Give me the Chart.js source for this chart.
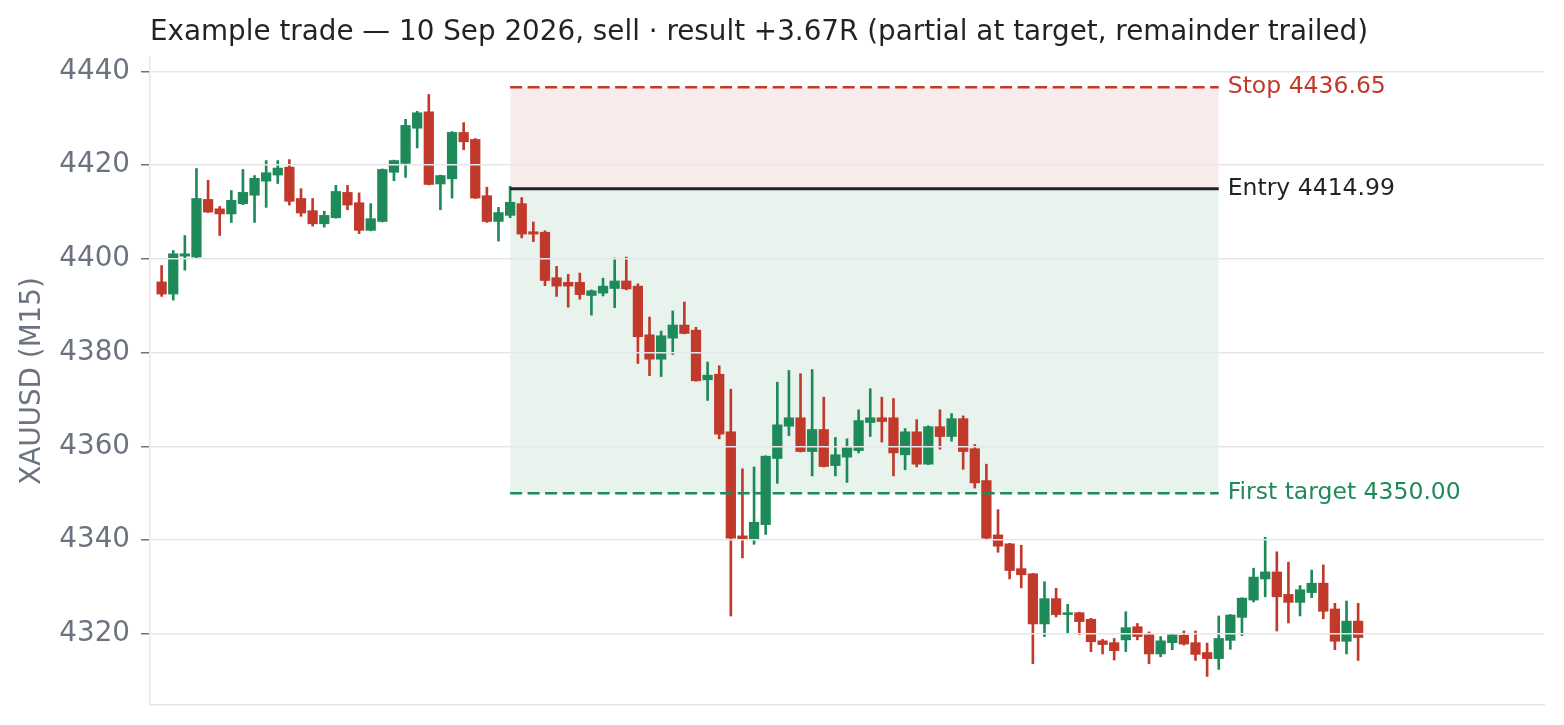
<!DOCTYPE html>
<html>
<head>
<meta charset="utf-8">
<title>Example trade</title>
<script src="https://cdn.jsdelivr.net/npm/chart.js@4.4.1/dist/chart.umd.min.js"></script>
<style>
  html, body { margin: 0; padding: 0; background: #ffffff; }
  #wrap { width: 1564px; height: 725px; position: relative; }
</style>
</head>
<body>
<div id="wrap"><canvas id="tradeChart"></canvas></div>
<script>
// M15 candles, index 0..103
const opens = [
  4395.1, 4392.5, 4400.6, 4400.4, 4412.7, 4410.7, 4409.6, 4411.8, 4413.6, 4416.6,
  4417.9, 4419.6, 4412.9, 4410.3, 4407.5, 4408.8, 4414.2, 4412.0, 4406.1, 4408.0,
  4418.5, 4420.4, 4427.9, 4431.4, 4416.0, 4417.1, 4427.0, 4425.5, 4413.5, 4408.0,
  4409.3, 4411.8, 4405.8, 4405.7, 4396.0, 4395.0, 4395.0, 4392.2, 4392.7, 4393.7,
  4395.3, 4394.2, 4383.8, 4378.6, 4383.1, 4385.9, 4384.8, 4374.2, 4375.4, 4363.1,
  4340.9, 4340.1, 4343.3, 4357.4, 4364.3, 4366.1, 4358.9, 4363.6, 4355.9, 4357.7,
  4359.1, 4365.1, 4366.1, 4366.1, 4358.2, 4363.1, 4356.2, 4364.2, 4362.1, 4365.9,
  4359.5, 4352.7, 4341.1, 4339.2, 4333.9, 4332.8, 4322.1, 4327.5, 4324.1, 4324.5,
  4323.1, 4318.5, 4318.1, 4318.7, 4321.5, 4319.8, 4315.7, 4318.1, 4319.7, 4318.1,
  4316.0, 4314.7, 4318.6, 4323.5, 4327.2, 4331.7, 4333.2, 4328.4, 4326.7, 4328.8,
  4330.8, 4325.3, 4318.4, 4322.7
];
const highs = [
  4398.6, 4401.8, 4405.0, 4419.3, 4416.8, 4411.2, 4414.6, 4419.1, 4417.8, 4421.0,
  4421.0, 4421.2, 4415.0, 4412.9, 4410.2, 4415.7, 4415.7, 4414.1, 4411.8, 4419.2,
  4421.1, 4429.8, 4431.5, 4435.1, 4417.9, 4427.2, 4429.1, 4425.7, 4415.3, 4411.0,
  4415.5, 4413.1, 4407.9, 4406.0, 4398.4, 4396.7, 4397.0, 4393.4, 4395.9, 4400.2,
  4400.4, 4394.7, 4387.6, 4384.6, 4388.9, 4390.8, 4385.4, 4378.0, 4377.2, 4372.2,
  4355.2, 4355.6, 4358.0, 4373.7, 4376.2, 4375.5, 4376.4, 4370.5, 4361.9, 4361.6,
  4367.8, 4372.3, 4370.5, 4370.2, 4363.8, 4365.7, 4364.4, 4367.8, 4367.0, 4366.5,
  4360.4, 4356.2, 4346.5, 4339.3, 4338.9, 4332.9, 4331.1, 4329.7, 4326.3, 4324.6,
  4323.3, 4318.8, 4319.0, 4324.7, 4322.2, 4320.4, 4319.4, 4320.0, 4320.6, 4320.6,
  4318.0, 4323.8, 4324.1, 4327.7, 4334.0, 4340.6, 4337.5, 4335.3, 4330.3, 4333.6,
  4334.7, 4326.5, 4327.0, 4326.5
];
const lows = [
  4392.0, 4391.2, 4397.6, 4400.1, 4409.9, 4405.0, 4407.8, 4411.6, 4407.8, 4411.0,
  4416.1, 4411.5, 4409.1, 4407.0, 4406.8, 4408.7, 4410.5, 4405.4, 4406.0, 4407.9,
  4416.7, 4417.4, 4423.7, 4415.8, 4410.5, 4413.0, 4423.3, 4412.9, 4407.8, 4403.8,
  4408.8, 4404.5, 4403.7, 4394.3, 4392.0, 4389.7, 4391.4, 4388.0, 4392.1, 4389.6,
  4393.4, 4377.7, 4375.1, 4374.9, 4379.6, 4384.0, 4373.9, 4369.8, 4361.6, 4323.8,
  4336.2, 4339.1, 4341.2, 4352.1, 4362.3, 4358.8, 4353.7, 4355.6, 4353.7, 4352.3,
  4358.6, 4362.1, 4360.9, 4353.7, 4355.0, 4355.6, 4356.1, 4359.4, 4361.1, 4355.1,
  4351.1, 4340.3, 4337.4, 4331.7, 4329.8, 4313.6, 4319.4, 4323.6, 4320.0, 4319.8,
  4316.2, 4315.7, 4314.4, 4316.2, 4318.7, 4313.6, 4315.1, 4316.6, 4317.6, 4314.3,
  4310.9, 4312.4, 4316.7, 4319.6, 4326.8, 4327.9, 4320.6, 4322.3, 4323.8, 4327.7,
  4323.2, 4316.6, 4315.7, 4314.3
];
const closes = [
  4392.5, 4401.1, 4401.1, 4412.9, 4410.0, 4409.6, 4412.5, 4414.2, 4417.2, 4418.4,
  4419.4, 4412.3, 4409.8, 4407.5, 4409.3, 4414.4, 4411.5, 4406.1, 4408.6, 4419.1,
  4421.0, 4428.5, 4431.2, 4415.9, 4417.8, 4427.0, 4425.0, 4413.0, 4408.0, 4409.9,
  4412.1, 4405.3, 4405.3, 4395.4, 4394.2, 4394.2, 4392.4, 4393.2, 4394.2, 4395.3,
  4393.6, 4383.4, 4378.6, 4383.6, 4385.9, 4384.1, 4374.0, 4375.2, 4362.6, 4340.4,
  4340.1, 4343.8, 4357.9, 4364.6, 4366.1, 4358.9, 4363.6, 4355.7, 4358.2, 4359.7,
  4365.5, 4366.1, 4365.3, 4358.6, 4363.1, 4356.2, 4364.2, 4362.1, 4365.9, 4358.9,
  4352.2, 4340.4, 4338.7, 4333.5, 4332.6, 4322.1, 4327.5, 4324.1, 4324.5, 4322.6,
  4318.3, 4317.7, 4316.4, 4321.3, 4319.4, 4315.7, 4318.5, 4319.8, 4317.8, 4315.6,
  4314.7, 4319.0, 4324.0, 4327.6, 4332.1, 4333.2, 4327.9, 4326.7, 4329.4, 4330.8,
  4324.8, 4318.4, 4322.7, 4319.2
];

// trade levels
const stopPrice = 4436.65;
const entryPrice = 4414.99;
const targetPrice = 4350.00;
const entryIndex = 30;
const zoneEndIndex = 91;

const yTicks = [4320, 4340, 4360, 4380, 4400, 4420, 4440];
const yMin = 4304.8;
const yMax = 4443.1;
const xMin = -1;
const xMax = 119;

const titleText = 'Example trade \u2014 10 Sep 2026, sell \u00b7 result +3.67R (partial at target, remainder trailed)';
const yTitle = 'XAUUSD (M15)';

const RED = '#c0392b';
const GREEN = '#1e8a5a';
const DARK = '#1f2328';
const GRAY = '#6b7280';
const GRID = '#e5e7eb';

Chart.defaults.font.family = '"DejaVu Sans", sans-serif';

const candleColors = closes.map((c, i) => c >= opens[i] ? GREEN : RED);

const bodies = closes.map((c, i) => ({ x: i, y: [opens[i], c] }));
const wicks = closes.map((c, i) => ({ x: i, y: [lows[i], highs[i]] }));

const levelLine = (price) => [
  { x: entryIndex, y: price },
  { x: zoneEndIndex, y: price }
];

// title, axis title and level labels
const textPlugin = {
  id: 'textPlugin',
  afterDraw(chart) {
    const ctx = chart.ctx;
    const area = chart.chartArea;
    const xs = chart.scales.x;
    const ys = chart.scales.y;
    ctx.save();

    ctx.fillStyle = DARK;
    ctx.font = '27.8px "DejaVu Sans"';
    ctx.textAlign = 'left';
    ctx.textBaseline = 'middle';
    ctx.fillText(titleText, area.left, 33);

    ctx.save();
    ctx.translate(33, (area.top + area.bottom) / 2);
    ctx.rotate(-Math.PI / 2);
    ctx.fillStyle = GRAY;
    ctx.font = '27.8px "DejaVu Sans"';
    ctx.textAlign = 'center';
    ctx.fillText(yTitle, 0, 0);
    ctx.restore();

    const lx = xs.getPixelForValue(zoneEndIndex) + 9;
    ctx.font = '23.5px "DejaVu Sans"';
    ctx.textAlign = 'left';
    ctx.fillStyle = RED;
    ctx.fillText('Stop ' + stopPrice.toFixed(2), lx, ys.getPixelForValue(stopPrice));
    ctx.fillStyle = DARK;
    ctx.fillText('Entry ' + entryPrice.toFixed(2), lx, ys.getPixelForValue(entryPrice));
    ctx.fillStyle = GREEN;
    ctx.fillText('First target ' + targetPrice.toFixed(2), lx, ys.getPixelForValue(targetPrice));
    ctx.restore();
  }
};

new Chart(document.getElementById('tradeChart'), {
  type: 'bar',
  data: {
    datasets: [
      {
        type: 'line',
        data: levelLine(stopPrice),
        borderColor: RED,
        borderWidth: 2.5,
        borderDash: [12, 5.5],
        pointRadius: 0,
        fill: { value: entryPrice },
        backgroundColor: 'rgba(192, 57, 43, 0.1)',
        order: 0
      },
      {
        type: 'line',
        data: levelLine(entryPrice),
        borderColor: DARK,
        borderWidth: 3,
        pointRadius: 0,
        fill: { value: targetPrice },
        backgroundColor: 'rgba(30, 138, 90, 0.1)',
        order: 0
      },
      {
        type: 'line',
        data: levelLine(targetPrice),
        borderColor: GREEN,
        borderWidth: 2.5,
        borderDash: [12, 5.5],
        pointRadius: 0,
        fill: false,
        order: 0
      },
      {
        data: bodies,
        backgroundColor: candleColors,
        borderWidth: 0,
        borderSkipped: false,
        barThickness: 9.6,
        grouped: false,
        order: 1
      },
      {
        data: wicks,
        backgroundColor: candleColors,
        borderWidth: 0,
        borderSkipped: false,
        barThickness: 2,
        grouped: false,
        order: 2
      }
    ]
  },
  options: {
    responsive: true,
    maintainAspectRatio: false,
    animation: false,
    events: [],
    layout: { padding: { top: 57, right: 20, bottom: 20, left: 0 } },
    plugins: {
      legend: { display: false },
      tooltip: { enabled: false },
      filler: { drawTime: 'beforeDatasetsDraw' }
    },
    scales: {
      x: {
        type: 'linear',
        min: xMin,
        max: xMax,
        offset: false,
        ticks: { display: false },
        grid: { display: false, offset: false },
        border: { display: true, color: GRID, width: 1.5 },
        afterFit(scale) { scale.height = 0; }
      },
      y: {
        type: 'linear',
        min: yMin,
        max: yMax,
        afterBuildTicks(scale) { scale.ticks = yTicks.map(v => ({ value: v })); },
        afterFit(scale) {
          scale.width = 150;
          scale.paddingTop = 0;
          scale.paddingBottom = 0;
        },
        ticks: {
          color: GRAY,
          font: { size: 27.8 },
          padding: 11,
          callback: (v) => String(v)
        },
        grid: {
          color: GRID,
          lineWidth: 1.5,
          tickColor: GRAY,
          tickLength: 9,
          z: 1
        },
        border: { display: true, color: GRID, width: 1.5, z: 1 }
      }
    }
  },
  plugins: [textPlugin]
});
</script>
</body>
</html>
